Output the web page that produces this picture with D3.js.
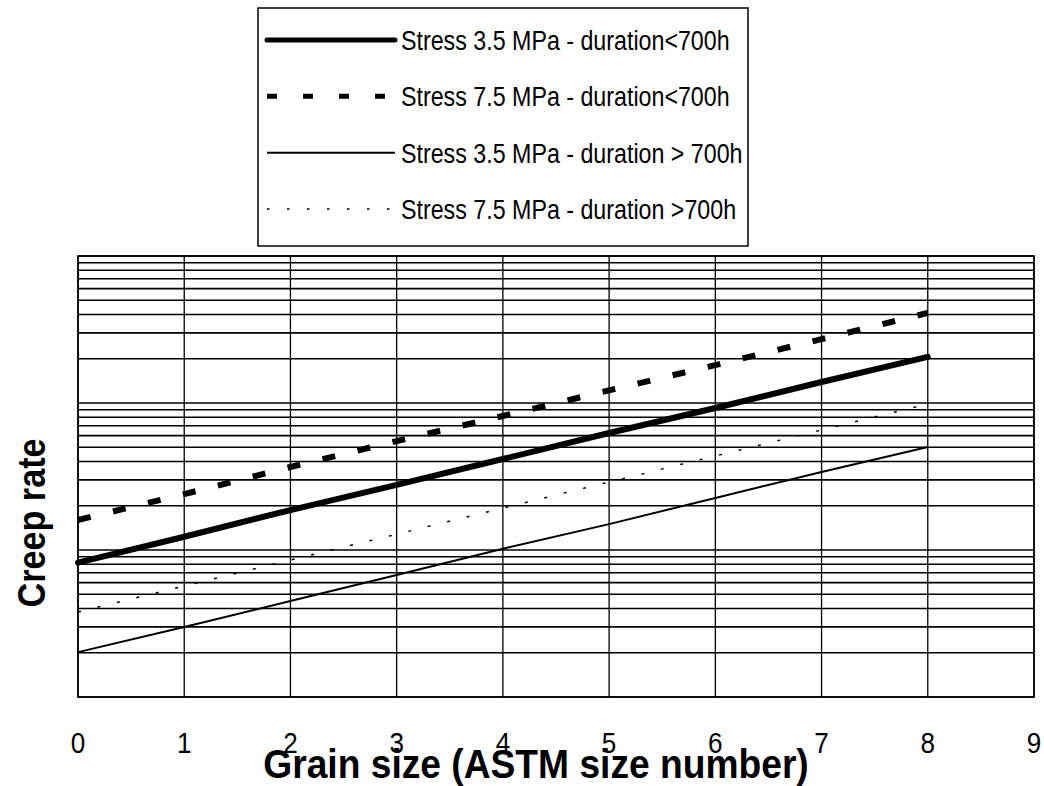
<!DOCTYPE html>
<html>
<head>
<meta charset="utf-8">
<script src="https://cdn.jsdelivr.net/npm/d3@7"></script>
<style>
  body { margin: 0; background: #fff; }
  text { font-family: "Liberation Sans", Arial, Helvetica, sans-serif; fill: #000; }
</style>
</head>
<body>
<div id="chart"></div>
<script>
// grain size (ASTM number) at which each curve was read
var grainSize = [0, 1, 2, 3, 4, 5, 6, 7, 8];
var xTicks = [0, 1, 2, 3, 4, 5, 6, 7, 8, 9];

// creep rate, arbitrary log units (axis is unlabelled)
var stress35Short = [8.2, 12.3, 18.7, 27.7, 41.6, 62.5, 92.5, 139, 206];
var stress75Short = [16.0, 24.0, 36.7, 55.1, 81.6, 122, 181, 272, 410];
var stress35Long  = [2.02, 2.99, 4.50, 6.76, 10.2, 15.0, 22.6, 33.9, 50.2];
var stress75Long  = [3.79, 5.69, 8.55, 12.8, 19.3, 29.0, 43.6, 65.5, 98.5];

var seriesNames = [
  "Stress 3.5 MPa - duration<700h",
  "Stress 7.5 MPa - duration<700h",
  "Stress 3.5 MPa - duration > 700h",
  "Stress 7.5 MPa - duration >700h"
];

var width = 1044, height = 786;
var margin = {top: 256, right: 10, bottom: 89, left: 78};

var styles = [
  {w: 6, dash: null, cap: "round"},
  {w: 6, dash: "13,23", cap: "butt"},
  {w: 2, dash: null, cap: "butt"},
  {w: 1.5, dash: "3,17", cap: "butt"}
];
var series = [stress35Short, stress75Short, stress35Long, stress75Long];

var svg = d3.select("#chart").append("svg")
    .attr("width", width)
    .attr("height", height);

var x = d3.scaleLinear().domain([0, 9]).range([margin.left, width - margin.right]);
var y = d3.scaleLog().domain([1, 1000]).range([height - margin.bottom, margin.top]);

// grid
var grid = svg.append("g");
grid.selectAll(".hg")
    .data(y.ticks())
    .enter().append("line")
    .attr("x1", x(0)).attr("x2", x(9))
    .attr("y1", function(d) { return y(d); })
    .attr("y2", function(d) { return y(d); })
    .attr("stroke", "#000").attr("stroke-width", 1.6);
grid.selectAll(".vg")
    .data(xTicks)
    .enter().append("line")
    .attr("y1", y(1)).attr("y2", y(1000))
    .attr("x1", function(d) { return x(d); })
    .attr("x2", function(d) { return x(d); })
    .attr("stroke", "#000").attr("stroke-width", 1.3);

svg.append("rect")
    .attr("x", x(0)).attr("y", y(1000))
    .attr("width", x(9) - x(0)).attr("height", y(1) - y(1000))
    .attr("fill", "none").attr("stroke", "#000").attr("stroke-width", 1.6);

// x axis tick labels
svg.selectAll(".xt")
    .data(xTicks)
    .enter().append("text")
    .attr("transform", function(d) { return "translate(" + x(d) + ",753) scale(0.9,1)"; })
    .attr("text-anchor", "middle")
    .style("font-size", "29px")
    .text(function(d) { return d; });

// lines
var line = d3.line()
    .x(function(d, i) { return x(grainSize[i]); })
    .y(function(d) { return y(d); });

series.forEach(function(s, i) {
  svg.append("path")
      .datum(s)
      .attr("d", line)
      .attr("fill", "none")
      .attr("stroke", "#000")
      .attr("stroke-width", styles[i].w)
      .attr("stroke-linecap", styles[i].cap)
      .attr("stroke-dasharray", styles[i].dash);
});

// axis titles
svg.append("text")
    .attr("transform", "translate(536,778) scale(0.93,1)")
    .attr("text-anchor", "middle")
    .style("font-size", "40px")
    .style("font-weight", "bold")
    .text("Grain size (ASTM size number)");

svg.append("text")
    .attr("transform", "translate(45,523) rotate(-90) scale(0.9,1)")
    .attr("text-anchor", "middle")
    .style("font-size", "38px")
    .style("font-weight", "bold")
    .text("Creep rate");

// legend
var legend = svg.append("g");
legend.append("rect")
    .attr("x", 258).attr("y", 8)
    .attr("width", 490).attr("height", 238)
    .attr("fill", "#fff").attr("stroke", "#000").attr("stroke-width", 1.5);

var rowY = d3.scalePoint().domain(d3.range(4)).range([40, 209]);

seriesNames.forEach(function(name, i) {
  var g = legend.append("g").attr("transform", "translate(0," + rowY(i) + ")");
  g.append("line")
      .attr("x1", 267).attr("x2", 395)
      .attr("stroke", "#000")
      .attr("stroke-width", i < 2 ? 5 : styles[i].w)
      .attr("stroke-linecap", styles[i].cap)
      .attr("stroke-dasharray", i == 1 ? "10,26" : (i == 3 ? "2.5,17.5" : null));
  g.append("text")
      .attr("transform", "translate(401,10) scale(0.83,1)")
      .style("font-size", "28px")
      .text(name);
});
</script>
</body>
</html>
